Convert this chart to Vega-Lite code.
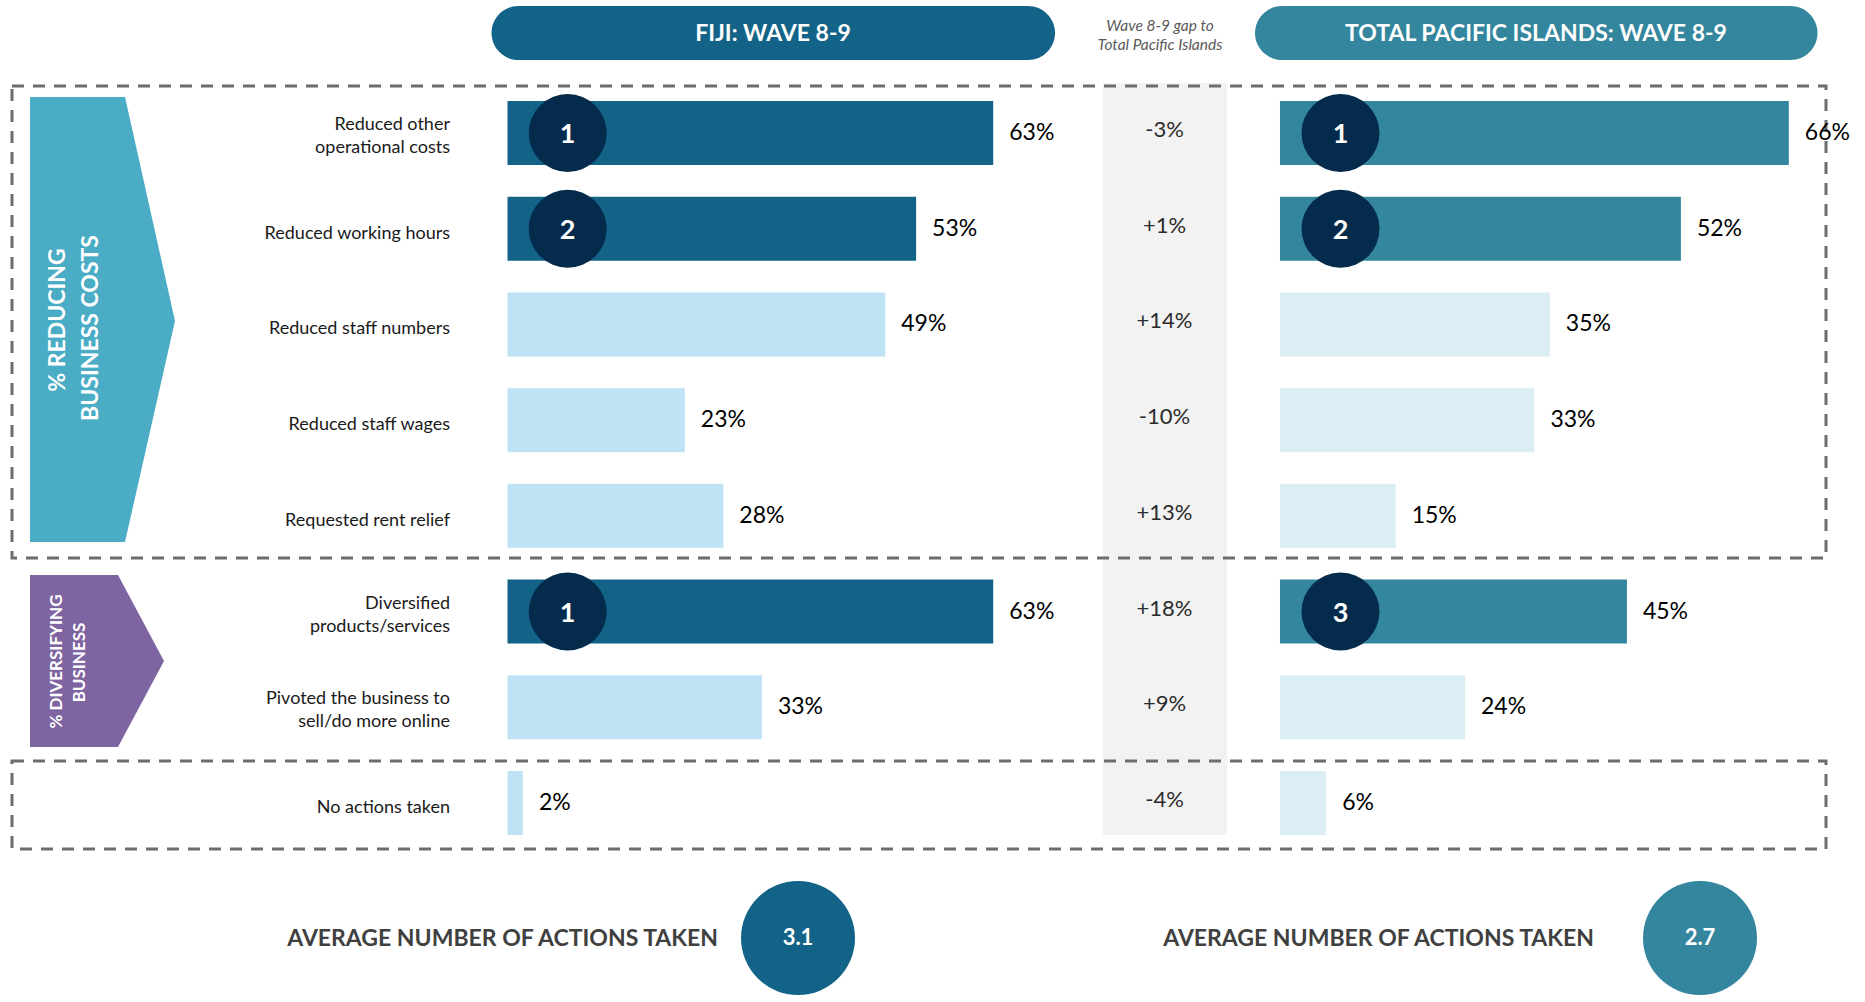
{
  "$schema": "https://vega.github.io/schema/vega-lite/v6.json",
  "width": 1865,
  "height": 1002,
  "autosize": {"type": "fit", "contains": "padding"},
  "padding": 0,
  "background": "#ffffff",
  "config": {"view": {"stroke": null}, "font": "Lato"},
  "data": {
    "values": [
      {"category": "Reduced other\noperational costs", "fiji": 63, "pacific": 66, "gap": -3, "fiji_rank": 1, "pacific_rank": 1},
      {"category": "Reduced working hours", "fiji": 53, "pacific": 52, "gap": 1, "fiji_rank": 2, "pacific_rank": 2},
      {"category": "Reduced staff numbers", "fiji": 49, "pacific": 35, "gap": 14},
      {"category": "Reduced staff wages", "fiji": 23, "pacific": 33, "gap": -10},
      {"category": "Requested rent relief", "fiji": 28, "pacific": 15, "gap": 13},
      {"category": "Diversified\nproducts/services", "fiji": 63, "pacific": 45, "gap": 18, "fiji_rank": 1, "pacific_rank": 3},
      {"category": "Pivoted the business to\nsell/do more online", "fiji": 33, "pacific": 24, "gap": 9},
      {"category": "No actions taken", "fiji": 2, "pacific": 6, "gap": -4}
    ]
  },
  "layer": [
    {
      "layer": [
        {"data": {"values": [{}]}, "mark": {"type": "rect", "fill": "#F2F2F2"},
         "encoding": {"x": {"datum": 1103, "type": "quantitative", "scale": {"domain": [0, 1865], "nice": false, "zero": false}, "axis": null},
                      "x2": {"datum": 1227},
                      "y": {"datum": 83, "type": "quantitative", "scale": {"domain": [0, 1002], "reverse": true, "nice": false, "zero": false}, "axis": null},
                      "y2": {"datum": 835}}},
        {"data": {"values": [{}]}, "mark": {"type": "rect", "filled": false, "stroke": "#6d6d6d", "strokeWidth": 3, "strokeDash": [12, 9]},
         "encoding": {"x": {"datum": 12, "type": "quantitative"}, "x2": {"datum": 1826}, "y": {"datum": 86, "type": "quantitative"}, "y2": {"datum": 558}}},
        {"data": {"values": [{}]}, "mark": {"type": "rect", "filled": false, "stroke": "#6d6d6d", "strokeWidth": 3, "strokeDash": [12, 9]},
         "encoding": {"x": {"datum": 12, "type": "quantitative"}, "x2": {"datum": 1826}, "y": {"datum": 761, "type": "quantitative"}, "y2": {"datum": 849}}},
        {"data": {"values": [{}]}, "mark": {"type": "rect", "fill": "#126387", "cornerRadius": 27},
         "encoding": {"x": {"datum": 491.5, "type": "quantitative"}, "x2": {"datum": 1055}, "y": {"datum": 6, "type": "quantitative"}, "y2": {"datum": 60}}},
        {"data": {"values": [{}]}, "mark": {"type": "rect", "fill": "#33869D", "cornerRadius": 27},
         "encoding": {"x": {"datum": 1255, "type": "quantitative"}, "x2": {"datum": 1817.5}, "y": {"datum": 6, "type": "quantitative"}, "y2": {"datum": 60}}},
        {"data": {"values": [{}]}, "mark": {"type": "text", "text": "FIJI: WAVE 8-9", "font": "Lato", "fontSize": 23, "fontWeight": "bold", "fill": "#ffffff", "align": "center", "baseline": "middle"},
         "encoding": {"x": {"datum": 773, "type": "quantitative"}, "y": {"datum": 34, "type": "quantitative"}}},
        {"data": {"values": [{}]}, "mark": {"type": "text", "text": "TOTAL PACIFIC ISLANDS: WAVE 8-9", "font": "Lato", "fontSize": 23, "fontWeight": "bold", "fill": "#ffffff", "align": "center", "baseline": "middle"},
         "encoding": {"x": {"datum": 1536, "type": "quantitative"}, "y": {"datum": 34, "type": "quantitative"}}},
        {"data": {"values": [{}]}, "mark": {"type": "text", "text": "Wave 8-9 gap to\nTotal Pacific Islands", "lineBreak": "\n", "lineHeight": 19, "font": "Lato", "fontSize": 15.5, "fontStyle": "italic", "fill": "#595959", "align": "center", "baseline": "middle"},
         "encoding": {"x": {"datum": 1160, "type": "quantitative"}, "y": {"datum": 26, "type": "quantitative"}}},
        {"data": {"values": [{}]}, "mark": {"type": "point", "shape": "M0,0L95,0L145,224L95,445L0,445Z", "size": 4, "filled": true, "fill": "#4AACC5", "opacity": 1, "strokeWidth": 0},
         "encoding": {"x": {"datum": 30, "type": "quantitative"}, "y": {"datum": 97, "type": "quantitative"}}},
        {"data": {"values": [{}]}, "mark": {"type": "point", "shape": "M0,0L88,0L134,86L88,172L0,172Z", "size": 4, "filled": true, "fill": "#7E64A1", "opacity": 1, "strokeWidth": 0},
         "encoding": {"x": {"datum": 30, "type": "quantitative"}, "y": {"datum": 575, "type": "quantitative"}}},
        {"data": {"values": [{}]}, "mark": {"type": "text", "text": "% REDUCING", "angle": 270, "font": "Lato", "fontSize": 23, "fontWeight": "bold", "fill": "#ffffff", "align": "center", "baseline": "middle"},
         "encoding": {"x": {"datum": 58, "type": "quantitative"}, "y": {"datum": 320, "type": "quantitative"}}},
        {"data": {"values": [{}]}, "mark": {"type": "text", "text": "BUSINESS COSTS", "angle": 270, "font": "Lato", "fontSize": 23, "fontWeight": "bold", "fill": "#ffffff", "align": "center", "baseline": "middle"},
         "encoding": {"x": {"datum": 90.7, "type": "quantitative"}, "y": {"datum": 328, "type": "quantitative"}}},
        {"data": {"values": [{}]}, "mark": {"type": "text", "text": "% DIVERSIFYING", "angle": 270, "font": "Lato", "fontSize": 17, "fontWeight": "bold", "fill": "#ffffff", "align": "center", "baseline": "middle"},
         "encoding": {"x": {"datum": 57.3, "type": "quantitative"}, "y": {"datum": 661.5, "type": "quantitative"}}},
        {"data": {"values": [{}]}, "mark": {"type": "text", "text": "BUSINESS", "angle": 270, "font": "Lato", "fontSize": 17, "fontWeight": "bold", "fill": "#ffffff", "align": "center", "baseline": "middle"},
         "encoding": {"x": {"datum": 80, "type": "quantitative"}, "y": {"datum": 662.5, "type": "quantitative"}}},
        {"data": {"values": [{}]}, "mark": {"type": "text", "text": "AVERAGE NUMBER OF ACTIONS TAKEN", "font": "Lato", "fontSize": 23, "fontWeight": "bold", "fill": "#404040", "align": "right", "baseline": "middle"},
         "encoding": {"x": {"datum": 718, "type": "quantitative"}, "y": {"datum": 939, "type": "quantitative"}}},
        {"data": {"values": [{}]}, "mark": {"type": "circle", "size": 12996, "fill": "#126387", "opacity": 1},
         "encoding": {"x": {"datum": 798, "type": "quantitative"}, "y": {"datum": 938, "type": "quantitative"}}},
        {"data": {"values": [{}]}, "mark": {"type": "text", "text": "3.1", "font": "Lato", "fontSize": 22, "fontWeight": "bold", "fill": "#ffffff", "align": "center", "baseline": "middle"},
         "encoding": {"x": {"datum": 798, "type": "quantitative"}, "y": {"datum": 938, "type": "quantitative"}}},
        {"data": {"values": [{}]}, "mark": {"type": "text", "text": "AVERAGE NUMBER OF ACTIONS TAKEN", "font": "Lato", "fontSize": 23, "fontWeight": "bold", "fill": "#404040", "align": "right", "baseline": "middle"},
         "encoding": {"x": {"datum": 1594, "type": "quantitative"}, "y": {"datum": 939, "type": "quantitative"}}},
        {"data": {"values": [{}]}, "mark": {"type": "circle", "size": 12996, "fill": "#33869D", "opacity": 1},
         "encoding": {"x": {"datum": 1700, "type": "quantitative"}, "y": {"datum": 938, "type": "quantitative"}}},
        {"data": {"values": [{}]}, "mark": {"type": "text", "text": "2.7", "font": "Lato", "fontSize": 22, "fontWeight": "bold", "fill": "#ffffff", "align": "center", "baseline": "middle"},
         "encoding": {"x": {"datum": 1700, "type": "quantitative"}, "y": {"datum": 938, "type": "quantitative"}}}
      ]
    },
    {
      "encoding": {
        "y": {"field": "category", "type": "nominal", "sort": null, "axis": null,
              "scale": {"domain": ["Reduced other\noperational costs", "Reduced working hours", "Reduced staff numbers", "Reduced staff wages", "Requested rent relief", "Diversified\nproducts/services", "Pivoted the business to\nsell/do more online", "No actions taken"],
                        "range": [101, 835], "paddingInner": 0.331, "paddingOuter": 0}}
      },
      "layer": [
        {
          "layer": [
            {"mark": {"type": "bar"},
             "encoding": {"x": {"field": "fiji", "type": "quantitative", "scale": {"domain": [-65.82, 176.07], "nice": false, "zero": false}, "axis": null},
                          "x2": {"datum": 0},
                          "color": {"condition": {"test": "isValid(datum.fiji_rank)", "value": "#126387"}, "value": "#BEE3F4"}}},
            {"mark": {"type": "text", "align": "left", "baseline": "middle", "dx": 16, "font": "Lato", "fontSize": 23, "fill": "#000000", "text": {"expr": "datum.fiji + '%'"}},
             "encoding": {"x": {"field": "fiji", "type": "quantitative"}}},
            {"transform": [{"filter": "isValid(datum.fiji_rank)"}],
             "mark": {"type": "circle", "size": 6084, "fill": "#042B4B", "opacity": 1},
             "encoding": {"x": {"datum": 7.81, "type": "quantitative"}}},
            {"transform": [{"filter": "isValid(datum.fiji_rank)"}],
             "mark": {"type": "text", "align": "center", "baseline": "middle", "dy": 2, "font": "Lato", "fontSize": 27, "fontWeight": "bold", "fill": "#ffffff"},
             "encoding": {"x": {"datum": 7.81, "type": "quantitative"}, "text": {"field": "fiji_rank", "type": "nominal"}}},
            {"transform": [{"filter": "indexof(datum.category, '\\n') < 0"}],
             "mark": {"type": "text", "align": "right", "baseline": "middle", "dx": -57.5, "dy": 5, "font": "Lato", "fontSize": 18, "fill": "#1a1a1a"},
             "encoding": {"x": {"datum": 0, "type": "quantitative"}, "text": {"field": "category", "type": "nominal"}}},
            {"transform": [{"filter": "indexof(datum.category, '\\n') >= 0"}],
             "mark": {"type": "text", "align": "right", "baseline": "middle", "dx": -57.5, "dy": -8, "lineBreak": "\n", "lineHeight": 23, "font": "Lato", "fontSize": 18, "fill": "#1a1a1a"},
             "encoding": {"x": {"datum": 0, "type": "quantitative"}, "text": {"field": "category", "type": "nominal"}}}
          ]
        },
        {
          "layer": [
            {"mark": {"type": "bar"},
             "encoding": {"x": {"field": "pacific", "type": "quantitative", "scale": {"domain": [-166.02, 75.88], "nice": false, "zero": false}, "axis": null},
                          "x2": {"datum": 0},
                          "color": {"condition": {"test": "isValid(datum.pacific_rank)", "value": "#33869D"}, "value": "#DAEEF4"}}},
            {"mark": {"type": "text", "align": "left", "baseline": "middle", "dx": 16, "font": "Lato", "fontSize": 23, "fill": "#000000", "text": {"expr": "datum.pacific + '%'"}},
             "encoding": {"x": {"field": "pacific", "type": "quantitative"}}},
            {"transform": [{"filter": "isValid(datum.pacific_rank)"}],
             "mark": {"type": "circle", "size": 6084, "fill": "#042B4B", "opacity": 1},
             "encoding": {"x": {"datum": 7.85, "type": "quantitative"}}},
            {"transform": [{"filter": "isValid(datum.pacific_rank)"}],
             "mark": {"type": "text", "align": "center", "baseline": "middle", "dy": 2, "font": "Lato", "fontSize": 27, "fontWeight": "bold", "fill": "#ffffff"},
             "encoding": {"x": {"datum": 7.85, "type": "quantitative"}, "text": {"field": "pacific_rank", "type": "nominal"}}}
          ]
        },
        {"mark": {"type": "text", "align": "center", "baseline": "middle", "dy": -3, "font": "Lato", "fontSize": 22, "fill": "#2b2b2b", "text": {"expr": "(datum.gap > 0 ? '+' : '') + datum.gap + '%'"}},
         "encoding": {"x": {"datum": 1164.5, "type": "quantitative", "scale": {"domain": [0, 1865], "nice": false, "zero": false}, "axis": null}}}
      ],
      "resolve": {"scale": {"x": "independent"}}
    }
  ],
  "resolve": {"scale": {"x": "independent", "y": "independent"}}
}
